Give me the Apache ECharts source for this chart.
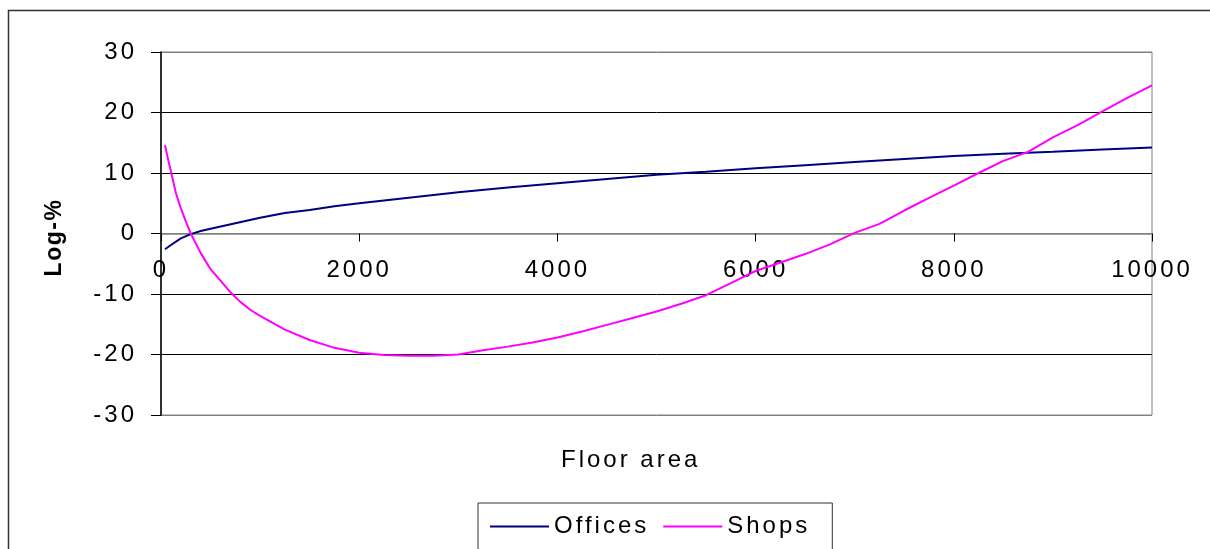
<!DOCTYPE html>
<html>
<head>
<meta charset="utf-8">
<script src="https://cdn.jsdelivr.net/npm/echarts@6/dist/echarts.min.js"></script>
<style>
html,body{margin:0;padding:0;background:#fff;}
#chart{width:1210px;height:549px;}
</style>
</head>
<body>
<div id="chart"></div>
<script>
// Excel-like letter spacing for canvas text
(function(){
  var P = CanvasRenderingContext2D.prototype;
  var ft = P.fillText, mt = P.measureText;
  function ls(ctx){ try { ctx.letterSpacing = /bold/.test(ctx.font) ? '1.5px' : '3px'; } catch(e){} }
  P.fillText = function(){ ls(this); return ft.apply(this, arguments); };
  P.measureText = function(){ ls(this); return mt.apply(this, arguments); };
})();

var xTicks = [0, 2000, 4000, 6000, 8000, 10000];
var yTicks = [-30, -20, -10, 0, 10, 20, 30];

var officesX = [40, 100, 200, 300, 400, 500, 750, 1000, 1250, 1500, 1750, 2000, 2500, 3000, 3500, 4000, 4500, 5000, 5500, 6000, 6500, 7000, 7500, 8000, 8500, 9000, 9500, 10000];
var officesY = [-2.6, -1.9, -0.8, -0.1, 0.4, 0.8, 1.7, 2.6, 3.4, 3.9, 4.5, 5.0, 5.9, 6.8, 7.6, 8.3, 9.0, 9.7, 10.2, 10.8, 11.3, 11.8, 12.3, 12.8, 13.2, 13.5, 13.9, 14.2];

var shopsX = [40, 75, 100, 150, 200, 250, 300, 400, 500, 600, 700, 800, 900, 1000, 1250, 1500, 1750, 2000, 2250, 2500, 2750, 3000, 3250, 3500, 3750, 4000, 4250, 4500, 4750, 5000, 5250, 5500, 5750, 6000, 6250, 6500, 6750, 7000, 7250, 7500, 7750, 8000, 8250, 8500, 8750, 9000, 9250, 9500, 9750, 10000];
var shopsY = [14.6, 12.0, 10.3, 6.7, 4.2, 2.0, 0.0, -3.2, -5.9, -7.8, -9.7, -11.3, -12.6, -13.6, -15.9, -17.6, -18.9, -19.7, -20.1, -20.2, -20.2, -20.0, -19.3, -18.7, -18.0, -17.2, -16.2, -15.1, -14.0, -12.9, -11.6, -10.2, -8.2, -6.2, -4.8, -3.4, -1.8, 0.1, 1.6, 3.8, 5.9, 7.9, 10.0, 12.0, 13.5, 15.9, 17.9, 20.2, 22.4, 24.5];

function pairs(xs, ys){ return xs.map(function(x,i){ return [x, ys[i]]; }); }

var FONT = "'Liberation Sans', Arial, sans-serif";
var GRID_TOP = 52, GRID_BOTTOM = 134, H = 549;
var plotH = H - GRID_TOP - GRID_BOTTOM;
// place the x axis on the zero line of the y range
var zeroOffset = -plotH * (0 - yTicks[0]) / (yTicks[yTicks.length-1] - yTicks[0]);

var chart = echarts.init(document.getElementById('chart'));
chart.setOption({
  animation: false,
  backgroundColor: '#fff',
  grid: { left: 161, right: 58, top: GRID_TOP, bottom: GRID_BOTTOM, show: true, borderColor: '#808080', borderWidth: 1, containLabel: false },
  xAxis: {
    type: 'value', min: xTicks[0], max: xTicks[xTicks.length-1], interval: 2000,
    position: 'bottom', offset: zeroOffset,
    axisLine: { show: true, onZero: false, lineStyle: { color: '#808080', width: 1.5 } },
    axisTick: { show: true, length: 8, lineStyle: { color: '#000' } },
    axisLabel: { color: '#000', fontFamily: FONT, fontSize: 24, margin: 23, formatter: function(v){ return String(v); } },
    splitLine: { show: false }
  },
  yAxis: {
    type: 'value', min: yTicks[0], max: yTicks[yTicks.length-1], interval: 10,
    name: 'Log-%', nameLocation: 'middle', nameRotate: 90, nameGap: 94,
    nameTextStyle: { color: '#000', fontFamily: FONT, fontSize: 23, fontWeight: 'bold', padding: [0, 8, 0, 0] },
    axisLine: { show: true, lineStyle: { color: '#000', width: 1.5 } },
    axisTick: { show: true, inside: false, length: 10, lineStyle: { color: '#000' } },
    axisLabel: { color: '#000', fontFamily: FONT, fontSize: 24, margin: 24 },
    splitLine: { show: true, lineStyle: { color: ['#808080', '#000', '#000', '#808080', '#000', '#000', '#808080'], width: 1 } }
  },
  legend: {
    left: 478, top: 503,
    padding: [10, 22, 40, 12],
    borderColor: '#333', borderWidth: 1,
    icon: 'rect', itemWidth: 59, itemHeight: 2, itemGap: 14,
    textStyle: { color: '#000', fontFamily: FONT, fontSize: 24 },
    data: ['Offices', 'Shops']
  },
  graphic: [
    { type: 'rect', shape: { x: 8.5, y: 10.5, width: 1400, height: 800 }, style: { fill: 'none', stroke: '#333', lineWidth: 1.5 }, silent: true, z: -10 },
    { type: 'text', left: 561, top: 447, style: { text: 'Floor area', fill: '#000', font: "24px 'Liberation Sans', Arial, sans-serif" } }
  ],
  series: [
    { name: 'Offices', type: 'line', data: pairs(officesX, officesY), showSymbol: false, symbol: 'none', color: '#000080', lineStyle: { color: '#000080', width: 2 } },
    { name: 'Shops', type: 'line', data: pairs(shopsX, shopsY), showSymbol: false, symbol: 'none', color: '#FF00FF', lineStyle: { color: '#FF00FF', width: 2 } }
  ]
});
</script>
</body>
</html>
